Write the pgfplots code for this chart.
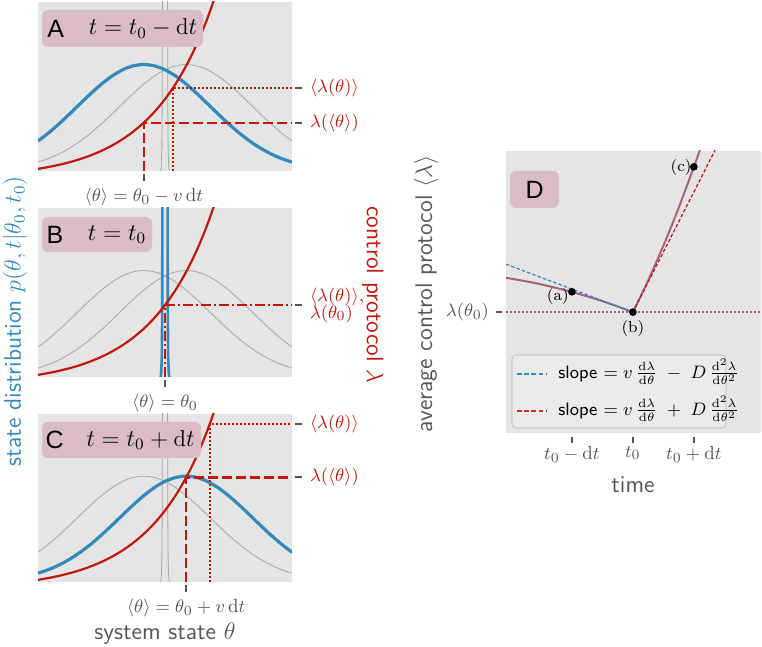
\documentclass[border=0pt]{standalone}
\usepackage{pgfplots}
\usepackage{pgfplotstable}
\pgfplotsset{compat=1.18}
\usepackage{fontspec}
\newfontfamily\letterfont{Liberation Sans}
\definecolor{bgc}{HTML}{E5E5E5}
\definecolor{bluec}{HTML}{348ABD}
\definecolor{redc}{HTML}{C0180C}
\definecolor{legred}{HTML}{D8281A}
\definecolor{mauve}{HTML}{A6627F}
\definecolor{boxc}{HTML}{D9BCC8}
\definecolor{grayc}{HTML}{A8A8A8}
\definecolor{tickc}{HTML}{555555}
\definecolor{legfill}{HTML}{EBEBEB}
\definecolor{legdraw}{HTML}{CCCCCC}
\newcommand{\blab}{\begin{tabular}{@{}l@{}}$\langle\lambda(\theta)\rangle$,\\[-2.5pt]$\lambda(\theta_0)$\end{tabular}}

\pgfplotstableread{
th gL gR
-3 0.1773 0.0525
-2.75 0.2256 0.0740
-2.5 0.2798 0.1015
-2.25 0.3385 0.1359
-2 0.3992 0.1773
-1.75 0.4589 0.2256
-1.5 0.5143 0.2798
-1.25 0.5621 0.3385
-1 0.5988 0.3992
-0.75 0.6221 0.4589
-0.5 0.6300 0.5143
-0.25 0.6221 0.5621
0 0.5988 0.5988
0.25 0.5621 0.6221
0.5 0.5143 0.6300
0.75 0.4589 0.6221
1 0.3992 0.5988
1.25 0.3385 0.5621
1.5 0.2798 0.5143
1.75 0.2256 0.4589
2 0.1773 0.3992
2.25 0.1359 0.3385
2.5 0.1015 0.2798
2.75 0.0740 0.2256
3 0.0525 0.1773
}\gausstab

\pgfplotstableread{
th lam
-3 0.0126
-2.75 0.0236
-2.5 0.0367
-2.25 0.0523
-2 0.0709
-1.75 0.0931
-1.5 0.1195
-1.25 0.1509
-1 0.1884
-0.75 0.2331
-0.5 0.2862
-0.25 0.3496
0 0.4250
0.25 0.5149
0.5 0.6220
0.75 0.7495
1 0.9015
1.25 1.0825
1.5 1.2981
}\redtab

\pgfplotstableread{
th y
-3 -0.03
-0.12 -0.03
-0.09 0.02
-0.075 0.12
-0.066 0.4
-0.06 1.2
-0.05 3
0 5
0.05 3
0.06 1.2
0.066 0.4
0.075 0.12
0.09 0.02
0.12 -0.03
3 -0.03
}\spiketab

\pgfplotstableread{
t y
-2.1 0.566
-1.75 0.505
-1.5 0.454
-1.25 0.395
-1 0.330
-0.75 0.258
-0.5 0.179
-0.25 0.093
0 0
}\mleft

\pgfplotstableread{
t y
0 0
0.25 0.518
0.5 1.088
0.75 1.708
1.0 2.38
1.15 2.808
}\mright

\pgfplotsset{
  panel/.style={
    scale only axis, width=127pt, height=84.5pt,
    xmin=-3, xmax=3, ymin=0, ymax=1,
    axis background/.style={fill=bgc},
    axis line style={draw=none},
    tick align=outside, major tick length=3.5pt,
    xtick pos=bottom, ytick pos=right, yticklabel pos=right,
    xtick style={draw=tickc, line width=1pt, yshift=-1.5pt},
    ytick style={draw=tickc, line width=1pt, xshift=1.5pt},
    xticklabel style={text=tickc, font=\fontsize{9.5}{11}\selectfont, yshift=-1.5pt},
    yticklabel style={text=redc, font=\fontsize{9.5}{11}\selectfont, anchor=west, xshift=2pt},
  },
  dsh/.style={dash pattern=on 5pt off 2pt},
  dtt/.style={dash pattern=on 0.9pt off 1.1pt},
  dshdt/.style={dash pattern=on 5pt off 1.5pt on 1pt off 1.5pt},
}

\begin{document}
\begin{tikzpicture}
\useasboundingbox (0,0) rectangle (381pt,323.5pt);

% Panel A
\begin{axis}[panel, at={(19pt,238pt)}, anchor=south west,
  xtick={-0.5}, xticklabels={$\langle\theta\rangle=\theta_0-v\,\mathrm{d}t$},
  ytick={0.2862,0.494}, yticklabels={$\lambda(\langle\theta\rangle)$,$\langle\lambda(\theta)\rangle$}]
\addplot[grayc, line width=0.4pt, smooth] table[x=th,y=gR]{\gausstab};
\addplot[grayc, line width=0.4pt] table[x=th,y=y]{\spiketab};
\addplot[bluec, line width=1.6pt, smooth] table[x=th,y=gL]{\gausstab};
\addplot[redc, line width=1.1pt, smooth] table[x=th,y=lam]{\redtab};
\addplot[redc, line width=1.1pt, dsh] coordinates {(-0.5,0) (-0.5,0.2862) (3,0.2862)};
\addplot[redc, line width=1pt, dtt] coordinates {(0.196,0) (0.196,0.494) (3,0.494)};
\end{axis}

% Panel B
\begin{axis}[panel, at={(19pt,135pt)}, anchor=south west,
  xtick={0}, xticklabels={$\langle\theta\rangle=\theta_0$},
  ytick={0.425}, yticklabels={{\blab}}]
\addplot[grayc, line width=0.4pt, smooth] table[x=th,y=gL]{\gausstab};
\addplot[grayc, line width=0.4pt, smooth] table[x=th,y=gR]{\gausstab};
\addplot[bluec, line width=1.3pt] table[x=th,y=y]{\spiketab};
\addplot[redc, line width=1.1pt, smooth] table[x=th,y=lam]{\redtab};
\addplot[redc, line width=1.1pt, dshdt] coordinates {(0,0) (0,0.425) (3,0.425)};
\end{axis}

% Panel C
\begin{axis}[panel, height=84pt, at={(19pt,32.5pt)}, anchor=south west,
  xtick={0.5}, xticklabels={$\langle\theta\rangle=\theta_0+v\,\mathrm{d}t$},
  ytick={0.622,0.94}, yticklabels={$\lambda(\langle\theta\rangle)$,$\langle\lambda(\theta)\rangle$}]
\addplot[grayc, line width=0.4pt, smooth] table[x=th,y=gL]{\gausstab};
\addplot[grayc, line width=0.4pt] table[x=th,y=y]{\spiketab};
\addplot[bluec, line width=1.6pt, smooth] table[x=th,y=gR]{\gausstab};
\addplot[redc, line width=1.1pt, smooth] table[x=th,y=lam]{\redtab};
\addplot[redc, line width=1.1pt, dsh] coordinates {(0.5,0) (0.5,0.622) (3,0.622)};
\addplot[redc, line width=1pt, dtt] coordinates {(1.06,0) (1.06,0.94) (3,0.94)};
\end{axis}

% Panel D
\begin{axis}[scale only axis, width=127.5pt, height=141pt, at={(253pt,107pt)}, anchor=south west,
  xmin=-2.08, xmax=2.1, ymin=-1.98, ymax=2.64,
  axis background/.style={fill=bgc}, axis line style={draw=none},
  tick align=outside, major tick length=3pt,
  xtick pos=bottom, ytick pos=left,
  xtick={-1,0,1}, xticklabels={$t_0-\mathrm{d}t$,$t_0$,$t_0+\mathrm{d}t$},
  ytick={0}, yticklabels={$\lambda(\theta_0)$},
  xtick style={draw=tickc, line width=1pt, yshift=-2pt},
  ytick style={draw=tickc, line width=1pt, xshift=-2pt},
  xticklabel style={text=tickc, font=\fontsize{9.5}{11}\selectfont},
  yticklabel style={text=tickc, font=\fontsize{9.5}{11}\selectfont, xshift=-2pt},
]
\addplot[mauve, line width=0.8pt, dtt] coordinates {(-2.08,0) (2.1,0)};
\addplot[mauve, line width=1pt, smooth] table[x=t,y=y]{\mleft};
\addplot[mauve, line width=1pt, smooth] table[x=t,y=y]{\mright};
\addplot[bluec, line width=0.6pt, dash pattern=on 1.8pt off 1pt] coordinates {(-2.08,0.786) (0,0)};
\addplot[redc, line width=0.6pt, dash pattern=on 1.8pt off 1pt] coordinates {(0,0) (1.4,2.758)};
\addplot[only marks, mark=*, mark size=1.7pt, black] coordinates {(-1,0.333) (0,0) (1,2.38)};
\node[font=\fontsize{8}{10}\selectfont] at (axis cs:-1.23,0.25) {(a)};
\node[font=\fontsize{8}{10}\selectfont] at (axis cs:0,-0.27) {(b)};
\node[font=\fontsize{8}{10}\selectfont] at (axis cs:0.79,2.37) {(c)};
\end{axis}

% legend of panel D
\filldraw[fill=legfill, draw=legdraw, line width=0.6pt, rounded corners=2pt] (256pt,109.5pt) rectangle (363pt,146pt);
\draw[bluec, line width=0.9pt, dash pattern=on 2.4pt off 1.2pt] (258.5pt,136.5pt) -- (273.5pt,136.5pt);
\draw[legred, line width=0.9pt, dash pattern=on 2.4pt off 1.2pt] (258.5pt,118pt) -- (273.5pt,118pt);
\node[anchor=west, inner sep=0pt, font=\fontsize{9}{11}\selectfont] at (279pt,137.5pt) {\textsf{slope} $=v\,\frac{\mathrm{d}\lambda}{\mathrm{d}\theta}\;-\;D\,\frac{\mathrm{d}^2\lambda}{\mathrm{d}\theta^2}$};
\node[anchor=west, inner sep=0pt, font=\fontsize{9}{11}\selectfont] at (279pt,119pt) {\textsf{slope} $=v\,\frac{\mathrm{d}\lambda}{\mathrm{d}\theta}\;+\;D\,\frac{\mathrm{d}^2\lambda}{\mathrm{d}\theta^2}$};

% title boxes
\fill[boxc, rounded corners=3pt] (21pt,300pt) rectangle (101.5pt,318.5pt);
\node at (27.8pt,309.25pt) {\letterfont\fontsize{12.5}{14}\selectfont A};
\node at (71.5pt,309.25pt) {\fontsize{11.5}{13}\selectfont $t=t_0-\mathrm{d}t$};
\fill[boxc, rounded corners=3pt] (21pt,197.5pt) rectangle (76pt,215pt);
\node at (27.5pt,206.25pt) {\letterfont\fontsize{12.5}{14}\selectfont B};
\node at (58.5pt,206.25pt) {\fontsize{11.5}{13}\selectfont $t=t_0$};
\fill[boxc, rounded corners=3pt] (21pt,94.5pt) rectangle (100.5pt,112.5pt);
\node at (27.3pt,103.5pt) {\letterfont\fontsize{12.5}{14}\selectfont C};
\node at (70.3pt,103.5pt) {\fontsize{11.5}{13}\selectfont $t=t_0+\mathrm{d}t$};
\fill[boxc, rounded corners=3pt] (255pt,219.5pt) rectangle (279.5pt,238pt);
\node at (267.3pt,228.75pt) {\letterfont\fontsize{12.5}{14}\selectfont D};

% axis labels
\node[rotate=90, text=bluec] at (7.5pt,163pt) {\fontsize{12}{14}\selectfont\sffamily state distribution $p(\theta,t|\theta_0,t_0)$};
\node[rotate=-90, text=redc] at (186.5pt,176pt) {\fontsize{12}{14}\selectfont\sffamily control protocol $\lambda$};
\node[text=tickc] at (82.5pt,6.5pt) {\fontsize{12}{14}\selectfont\sffamily system state $\theta$};
\node[rotate=90, text=tickc] at (213pt,176.5pt) {\fontsize{12}{14}\selectfont\sffamily average control protocol $\langle\lambda\rangle$};
\node[text=tickc] at (316.5pt,81pt) {\fontsize{12}{14}\selectfont\sffamily time};
\end{tikzpicture}
\end{document}
